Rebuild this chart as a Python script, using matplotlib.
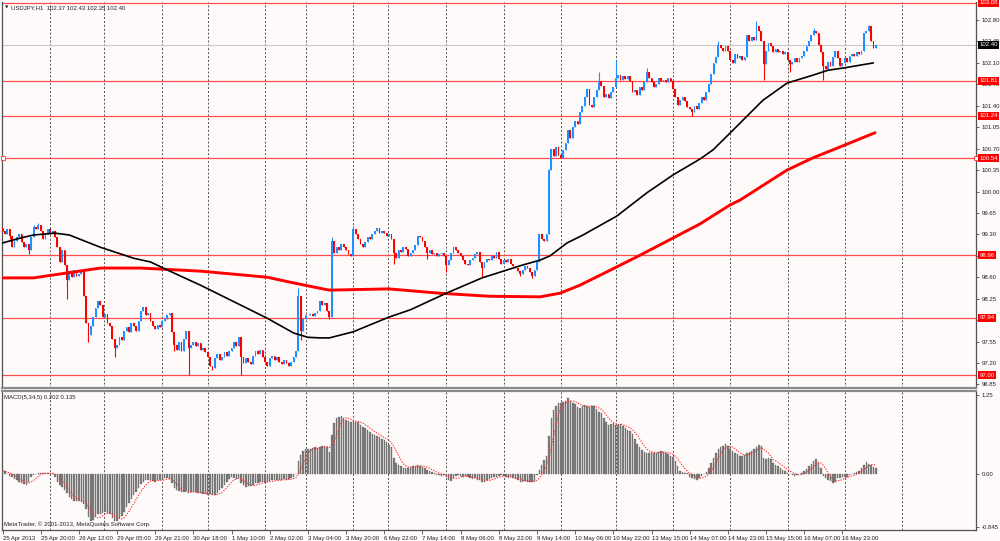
import matplotlib
matplotlib.use('Agg')
import matplotlib.pyplot as plt
import matplotlib.transforms as mtransforms
import numpy as np
import pandas as pd

# ---------------- data ----------------
first_open = 99.40
closes = [
    99.35, 99.30, 99.38, 99.28, 99.10, 99.20, 99.25, 99.30, 99.18, 99.10, 99.15, 99.05, 99.25, 99.42, 99.38, 99.45,
    99.35, 99.22, 99.30, 99.38, 99.32, 99.36, 99.25, 99.10, 98.85, 99.05, 98.80, 98.55, 98.70, 98.60, 98.72, 98.62,
    98.65, 98.70, 98.30, 97.85, 97.65, 97.80, 97.95, 98.10, 98.22, 98.15, 97.95, 98.00, 97.85, 97.80, 97.60, 97.45,
    97.50, 97.62, 97.58, 97.72, 97.78, 97.70, 97.85, 97.80, 97.72, 97.88, 98.05, 98.12, 97.98, 98.02, 97.88, 97.80,
    97.75, 97.82, 97.78, 97.88, 97.92, 97.98, 98.02, 97.70, 97.50, 97.42, 97.55, 97.40, 97.60, 97.72, 97.45, 97.50,
    97.55, 97.48, 97.52, 97.42, 97.45, 97.38, 97.30, 97.15, 97.12, 97.28, 97.35, 97.25, 97.30, 97.38, 97.32, 97.40,
    97.45, 97.55, 97.48, 97.62, 97.30, 97.20, 97.28, 97.22, 97.18, 97.32, 97.40, 97.35, 97.42, 97.30, 97.22, 97.15,
    97.28, 97.32, 97.25, 97.30, 97.22, 97.18, 97.25, 97.20, 97.15, 97.22, 97.30, 97.40, 98.30, 97.72, 97.92, 97.98,
    97.98, 98.00, 97.96, 98.02, 98.05, 98.22, 98.15, 98.18, 98.05, 97.95, 99.20, 99.00, 99.10, 99.05, 99.15, 99.10,
    99.05, 98.98, 98.95, 99.38, 99.30, 99.22, 99.15, 99.10, 99.18, 99.25, 99.22, 99.30, 99.35, 99.40, 99.32, 99.35,
    99.32, 99.28, 99.30, 99.22, 99.00, 98.92, 99.05, 99.02, 99.10, 99.06, 98.95, 99.00, 99.05, 99.12, 99.28, 99.25,
    99.20, 99.10, 99.00, 99.05, 98.98, 99.00, 98.95, 98.98, 99.00, 98.95, 98.80, 98.88, 99.00, 99.10, 99.05, 99.00,
    98.95, 98.88, 98.82, 98.80, 98.88, 98.92, 98.98, 99.02, 98.85, 98.75, 98.85, 98.90, 98.88, 98.95, 98.92, 99.02,
    98.90, 98.82, 98.88, 98.85, 98.90, 98.82, 98.78, 98.75, 98.70, 98.65, 98.72, 98.78, 98.75, 98.68, 98.62, 98.72,
    98.85, 99.30, 99.22, 99.20, 99.30, 100.35, 100.70, 100.58, 100.72, 100.60, 100.55, 100.68, 100.80, 101.00, 100.88, 101.05,
    101.15, 101.10, 101.30, 101.40, 101.55, 101.68, 101.42, 101.38, 101.55, 101.65, 101.80, 101.72, 101.55, 101.60, 101.52, 101.62,
    101.70, 101.85, 101.90, 101.82, 101.88, 101.84, 101.88, 101.80, 101.62, 101.65, 101.58, 101.70, 101.65, 101.78, 101.95, 101.85,
    101.78, 101.70, 101.75, 101.85, 101.80, 101.82, 101.78, 101.85, 101.80, 101.68, 101.55, 101.42, 101.50, 101.55, 101.48, 101.38,
    101.35, 101.30, 101.40, 101.35, 101.45, 101.55, 101.50, 101.62, 101.75, 101.92, 102.10, 102.20, 102.40, 102.35, 102.30, 102.38,
    102.30, 102.15, 102.10, 102.25, 102.18, 102.22, 102.15, 102.20, 102.55, 102.45, 102.52, 102.48, 102.70, 102.62, 102.45, 102.08,
    102.30, 102.42, 102.38, 102.28, 102.32, 102.28, 102.30, 102.25, 102.28, 102.15, 102.08, 102.12, 102.18, 102.12, 102.18, 102.22,
    102.30, 102.38, 102.45, 102.55, 102.62, 102.58, 102.40, 102.28, 102.05, 102.00, 102.12, 102.05, 102.20, 102.30, 102.18, 102.05,
    102.10, 102.18, 102.12, 102.22, 102.25, 102.22, 102.28, 102.25, 102.30, 102.58, 102.62, 102.70, 102.45, 102.35, 102.40,
]
# long wicks (bar index -> price)
wick_highs = {13: 99.46, 15: 99.48, 124: 98.42, 138: 99.26, 147: 99.44, 229: 100.36,
              250: 101.95, 257: 102.15, 270: 102.02, 300: 102.45, 316: 102.78,
              340: 102.67, 363: 102.72}
wick_lows = {3: 99.22, 11: 98.98, 27: 98.25, 36: 97.55, 47: 97.30, 72: 97.40,
             78: 97.00, 88: 97.08, 100: 97.00, 125: 97.57, 137: 97.92, 164: 98.82,
             178: 98.90, 186: 98.68, 201: 98.60, 217: 98.62, 222: 98.58,
             289: 101.23, 319: 101.82, 330: 101.95, 344: 101.82}

# moving averages (bar index, price)
black_ma_bars = [0, 7.5, 13, 22, 28, 41, 55, 62, 69, 83, 97, 111, 122, 128, 133, 137, 147, 162,
                 171, 186, 201, 218, 225.3, 229.5, 236.6, 243.3, 257.5, 270.1, 281, 292.3, 297.8,
                 306.1, 318.7, 328.8, 339.7, 346, 353, 365]
black_ma_vals = [99.16, 99.24, 99.29, 99.32, 99.29, 99.09, 98.91, 98.85, 98.72, 98.47, 98.20, 97.93,
                 97.69, 97.62, 97.61, 97.61, 97.71, 97.95, 98.07, 98.34, 98.59, 98.80, 98.88, 98.95,
                 99.16, 99.29, 99.60, 99.98, 100.27, 100.53, 100.68, 101.00, 101.49, 101.77, 101.90,
                 101.98, 102.02, 102.10]
red_ma_bars = [0, 13, 27, 41, 58, 83, 111, 120.5, 133, 137, 162, 183, 204, 225.3, 233.7, 242,
               257.5, 267.2, 281, 292.3, 304.9, 309.1, 328.8, 339.7, 353.1, 365.7]
red_ma_vals = [98.59, 98.59, 98.67, 98.75, 98.75, 98.70, 98.60, 98.52, 98.42, 98.39, 98.41, 98.34,
               98.29, 98.28, 98.34, 98.47, 98.77, 98.96, 99.24, 99.47, 99.78, 99.86, 100.35,
               100.55, 100.76, 100.96]

# MACD(5,34,5) main values per bar
macd = [
    0.05, 0.04, 0.0, -0.03,
    -0.05, -0.08, -0.10, -0.12, -0.14, -0.16, -0.17,
    -0.12, -0.05, -0.01,
    0.0, 0.01, 0.01, 0.02, 0.01, 0.01, 0.0, 0.01,
    -0.05, -0.12, -0.18,
    -0.20, -0.26, -0.30,
    -0.36, -0.40, -0.42, -0.43, -0.42, -0.44,
    -0.48, -0.55,
    -0.68, -0.74, -0.72,
    -0.68, -0.64, -0.63,
    -0.62, -0.60, -0.62, -0.64, -0.70,
    -0.75, -0.74,
    -0.70, -0.66, -0.60, -0.53, -0.46, -0.40, -0.34,
    -0.28, -0.22, -0.16, -0.12, -0.10,
    -0.09, -0.10, -0.11, -0.12, -0.10,
    -0.09, -0.08, -0.07, -0.06, -0.08,
    -0.15, -0.22, -0.26, -0.27,
    -0.29, -0.28, -0.27, -0.30, -0.29, -0.28, -0.29, -0.30,
    -0.30, -0.31, -0.32, -0.33, -0.32, -0.34, -0.33,
    -0.30, -0.26, -0.22, -0.17, -0.12, -0.08, -0.05,
    -0.06, -0.08, -0.07,
    -0.14, -0.18, -0.20, -0.19, -0.19,
    -0.17, -0.15, -0.14, -0.12, -0.13, -0.12,
    -0.12, -0.11, -0.10, -0.10, -0.09, -0.10, -0.09, -0.08, -0.09, -0.08, -0.07,
    -0.05, 0.0,
    0.20, 0.30,
    0.36, 0.39, 0.40,
    0.40, 0.41, 0.42, 0.41, 0.43, 0.45, 0.44, 0.42,
    0.35,
    0.62,
    0.80, 0.88, 0.90,
    0.91,
    0.89, 0.86, 0.84, 0.82,
    0.84, 0.83, 0.82,
    0.78, 0.75, 0.72, 0.70, 0.67, 0.64,
    0.62, 0.60, 0.58, 0.56, 0.54,
    0.50, 0.46, 0.42,
    0.25, 0.18, 0.15,
    0.12, 0.10, 0.10,
    0.10, 0.11, 0.12, 0.13, 0.14, 0.13,
    0.11, 0.09, 0.07, 0.05, 0.03,
    0.01, -0.01, -0.02, -0.03, -0.02, -0.04,
    -0.10, -0.11,
    -0.06, -0.03, -0.02, -0.03, -0.04, -0.03,
    -0.05, -0.06, -0.08, -0.07, -0.09, -0.10,
    -0.12, -0.12,
    -0.09, -0.08, -0.06, -0.05, -0.04, -0.03,
    -0.02, -0.03, -0.05, -0.06, -0.05, -0.07, -0.08,
    -0.10, -0.12, -0.12, -0.11, -0.12, -0.12, -0.13, -0.11,
    -0.02, 0.06,
    0.15, 0.22, 0.28,
    0.60,
    0.88,
    1.02,
    1.08, 1.12, 1.13, 1.14, 1.15,
    1.20,
    1.16, 1.12, 1.10,
    1.06, 1.05,
    1.08, 1.09, 1.07, 1.06, 1.08, 1.07,
    1.03, 0.98, 0.96,
    0.88, 0.82, 0.78,
    0.79, 0.80, 0.78, 0.77, 0.79, 0.76,
    0.72, 0.70, 0.68, 0.64,
    0.56, 0.48, 0.43,
    0.38, 0.35, 0.33, 0.34,
    0.35, 0.34, 0.33, 0.35, 0.36, 0.35, 0.33,
    0.31, 0.29, 0.27,
    0.20, 0.12,
    0.04, 0.03, 0.02, 0.01,
    -0.04, -0.06, -0.08, -0.10,
    -0.06, -0.03, 0.0, 0.03,
    0.10, 0.17, 0.25,
    0.33, 0.40, 0.43, 0.45,
    0.47,
    0.44, 0.40, 0.36,
    0.33, 0.31, 0.29, 0.28, 0.30, 0.33,
    0.35, 0.37, 0.40, 0.42,
    0.46, 0.44,
    0.25, 0.24,
    0.25, 0.23,
    0.18, 0.15, 0.12, 0.10, 0.07, 0.05,
    0.02, 0.0, -0.02, -0.03,
    -0.01, 0.0, 0.02,
    0.05, 0.08, 0.12, 0.16, 0.20, 0.23,
    0.18, 0.10,
    -0.03, -0.07, -0.09, -0.11,
    -0.15, -0.12,
    -0.07, -0.06, -0.05, -0.04, -0.04,
    -0.02, 0.0, 0.02, 0.03, 0.05,
    0.10, 0.15, 0.19,
    0.16, 0.14, 0.11, 0.10,
]
signal_period = 5

level_lines = [103.08, 101.81, 101.24, 100.54, 98.96, 97.94, 97.00]
current_price = 102.40
price_ticks = [96.85, 97.20, 97.55, 97.90, 98.25, 98.60, 98.95, 99.30, 99.65, 100.00,
               100.35, 100.70, 101.05, 101.40, 101.75, 102.10, 102.45, 102.80]
hidden_price_ticks = [97.90, 98.95]   # fully covered by level labels in the chart
macd_ticks = [1.25, 0.00, -0.845]
macd_tick_labels = ['1.25', '0.00', '-0.845']
time_labels = ['25 Apr 2013', '25 Apr 20:00', '26 Apr 12:00', '29 Apr 05:00', '29 Apr 21:00',
               '30 Apr 18:00', '1 May 10:00', '2 May 02:00', '3 May 04:00', '3 May 20:00',
               '6 May 22:00', '7 May 14:00', '8 May 06:00', '8 May 22:00', '9 May 14:00',
               '10 May 06:00', '10 May 22:00', '13 May 15:00', '14 May 07:00', '14 May 23:00',
               '15 May 15:00', '16 May 07:00', '16 May 23:00']
label_step = 16
day_start_bars = [20, 42.5, 67, 86, 110, 127, 147, 161.5, 186, 210, 234, 257, 281, 305, 329, 353, 377]

title_text = 'USDJPY,H1  102.37 102.43 102.35 102.40'
macd_text = 'MACD(5,34,5) 0.202 0.135'
copyright_text = 'MetaTrader, \u00a9 2001-2013, MetaQuotes Software Corp.'

# ---------------- derived ----------------
n = len(closes)
xs = np.arange(n)
opens = [first_open] + closes[:-1]
highs = [max(o, c) for o, c in zip(opens, closes)]
lows = [min(o, c) for o, c in zip(opens, closes)]
for k, v in wick_highs.items():
    highs[k] = max(highs[k], v)
for k, v in wick_lows.items():
    lows[k] = min(lows[k], v)

BG = '#fffafa'
BULL = '#1e90ff'
BEAR = '#ff0000'
FONT = ['Liberation Sans', 'DejaVu Sans']
FS = 4.3
plt.rcParams['font.family'] = FONT

W, H = 1000, 541
fig = plt.figure(figsize=(W / 100, H / 100), dpi=100, facecolor=BG)

def fy(px):
    return 1 - px / H

ax = fig.add_axes([2 / W, fy(388), 974 / W, 386 / H], facecolor=BG)
ax2 = fig.add_axes([2 / W, fy(530), 974 / W, 139 / H], facecolor=BG, sharex=ax)

xlim = (-0.21, 408.0)
ax.set_xlim(*xlim)
ax.set_ylim(96.792, 103.094)
ax2.set_ylim(-0.886, 1.313)

# grid (day separators)
for a in (ax, ax2):
    for b in day_start_bars:
        a.axvline(b, color='#505050', lw=0.7, ls=(0, (2, 2)), zorder=1)

# horizontal levels
for lv in level_lines:
    ax.axhline(lv, color='#ff4d4d', lw=0.9, zorder=1.2)
ax.axhline(current_price, color='#c8c8c8', lw=0.8, zorder=1.1)

blend = mtransforms.blended_transform_factory(ax.transAxes, ax.transData)
ax.plot([0.001, 0.9995], [100.54, 100.54], transform=blend, ls='none', marker='s', ms=2.2,
        mfc=BG, mec='#ff3030', mew=0.6, clip_on=False, zorder=6)

# candles
colors = [BULL if c > o else BEAR for o, c in zip(opens, closes)]
ax.vlines(xs, lows, highs, colors=colors, lw=0.8, zorder=3)
ax.bar(xs, np.array(closes) - np.array(opens), bottom=opens, width=0.75,
       color=colors, linewidth=0, zorder=3.1)

# moving averages
ax.plot(red_ma_bars, red_ma_vals, color='#ff0000', lw=2.1, zorder=4,
        solid_capstyle='round', solid_joinstyle='round')
ax.plot(black_ma_bars, black_ma_vals, color='#000000', lw=1.2, zorder=4.1,
        solid_capstyle='round', solid_joinstyle='round')

# MACD
ax2.bar(np.arange(len(macd)), macd, width=0.62, color='#7f7f7f', edgecolor='#555555',
        linewidth=0.2, zorder=3)
signal = pd.Series(macd).rolling(signal_period, min_periods=1).mean()
ax2.plot(np.arange(len(macd)), signal, color='#ff3030', lw=0.8, ls=(0, (1.2, 1.2)), zorder=4)

# spines
for a in (ax, ax2):
    for s in ('left', 'right'):
        a.spines[s].set_color('#505050')
        a.spines[s].set_linewidth(0.9)
ax.spines['top'].set_visible(False)
ax.spines['bottom'].set_color('#8a8a8a')
ax.spines['bottom'].set_linewidth(1.6)
ax2.spines['top'].set_color('#8a8a8a')
ax2.spines['top'].set_linewidth(1.6)
ax2.spines['bottom'].set_color('#505050')
ax2.spines['bottom'].set_linewidth(0.9)

# y axes on the right
for a in (ax, ax2):
    a.yaxis.tick_right()
    a.tick_params(axis='y', direction='out', length=2.5, width=0.6, colors='#505050',
                  labelsize=FS, labelcolor='#202020', pad=1.5, left=False, labelleft=False)
ax.set_yticks(price_ticks)
ax.set_yticklabels(['' if t in hidden_price_ticks else f'{t:.2f}' for t in price_ticks])
ax2.set_yticks(macd_ticks)
ax2.set_yticklabels(macd_tick_labels)

# x axis
ax.tick_params(axis='x', bottom=False, labelbottom=False)
tick_pos = [i * label_step for i in range(len(time_labels))]
ax2.set_xticks(tick_pos)
ax2.set_xticklabels(time_labels)
ax2.tick_params(axis='x', direction='out', length=3, width=0.6, colors='#505050',
                labelsize=FS, labelcolor='#202020', pad=1.2)
for lab in ax2.get_xticklabels():
    lab.set_horizontalalignment('left')

# price labels on the right
for lv in level_lines:
    ax.text(1.0035, lv, f'{lv:.2f}', transform=blend, color='white', fontsize=FS,
            va='center', ha='left', clip_on=False, zorder=10,
            bbox=dict(boxstyle='square,pad=0.25', fc='#ff0000', ec='none'))
ax.text(1.0035, current_price, f'{current_price:.2f}', transform=blend, color='white', fontsize=FS,
        va='center', ha='left', clip_on=False, zorder=10,
        bbox=dict(boxstyle='square,pad=0.25', fc='#000000', ec='none'))

# texts
fig.text(4.5 / W, fy(7.5), '\u25bc', fontsize=3.2, family=['DejaVu Sans'], va='center',
         ha='left', color='#202020')
fig.text(11 / W, fy(7.5), title_text, fontsize=FS, va='center', ha='left', color='#202020')
fig.text(4 / W, fy(397.5), macd_text, fontsize=FS, va='center', ha='left', color='#202020')
fig.text(4 / W, fy(524.5), copyright_text, fontsize=FS, va='center', ha='left', color='#202020')

fig.savefig('out.png', dpi=100, facecolor=BG)
print(n, len(macd))
